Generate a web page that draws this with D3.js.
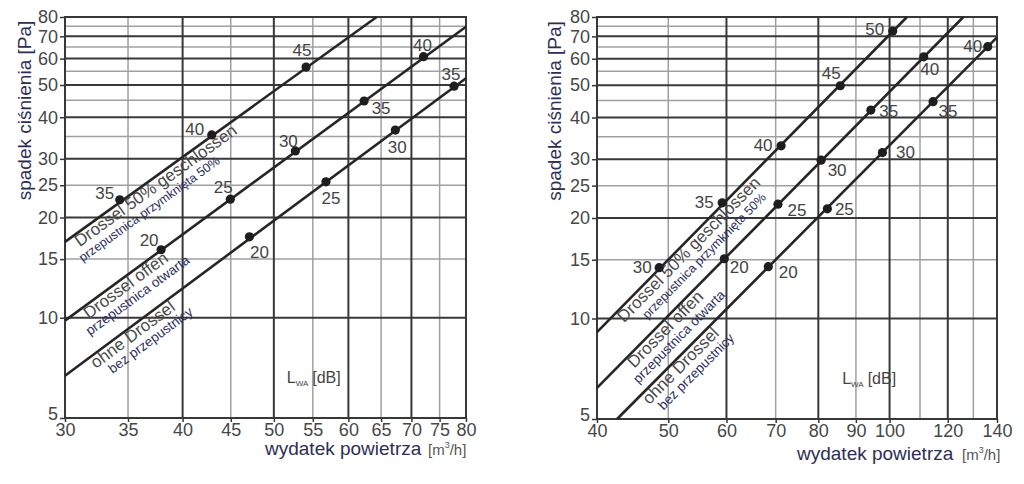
<!DOCTYPE html>
<html><head><meta charset="utf-8">
<script src="https://cdn.jsdelivr.net/npm/d3@7"></script>
<style>body{margin:0;background:#fff}svg{display:block;font-family:"Liberation Sans",Arial,sans-serif}</style>
</head><body><svg width="1024" height="484"></svg>
<script>
// ---------- data ----------
const yTicks = [5,10,15,20,25,30,40,50,60,70,80];
const yGridMajor = [10,20,30,40,50,60,70,80];
const yGridMinor = [15,25,35,45,55,65,75];

const leftXTicks = [30,35,40,45,50,55,60,65,70,75,80];
const leftXGridMajor = [40,50,60,70];
const leftXGridMinor = [35,45,55,65,75];
const rightXTicks = [40,50,60,70,80,90,100,120,140];
const rightXGridMajor = [60,80,100,120];
const rightXGridMinor = [50,70,90,110,130];

const seriesNames = ["Drossel 50% geschlossen","Drossel offen","ohne Drossel"];
const seriesNamesPl = ["przepustnica przymknięta 50%","przepustnica otwarta","bez przepustnicy"];

// left chart: flow [m3/h], pressure drop [Pa], sound power level L_WA [dB]
const leftFlow = [[34.3,42.95,54.1],[37.95,44.95,52.7,62.35,72.1],[47.1,56.8,67.3,77.7]];
const leftPressure = [[22.6,35.4,56.6],[16.0,22.7,31.7,44.75,60.8],[17.5,25.6,36.6,49.6]];
const leftLwa = [[35,40,45],[20,25,30,35,40],[20,25,30,35]];
const leftLineEnds = [[[30,16.9],[64.3,80]],[[30,9.8],[80,74.8]],[[30,6.7],[80,52.4]]];

// right chart
const rightFlow = [[48.6,59.2,71.2,85.7,101],[59.6,70.5,80.7,94.3,111.3],[68.4,82.3,97.8,114.6,136]];
const rightPressure = [[14.2,22.2,32.9,49.8,72.6],[15.1,22.0,29.8,42.1,60.8],[14.3,21.3,31.4,44.6,65.2]];
const rightLwa = [[30,35,40,45,50],[20,25,30,35,40],[20,25,30,35,40]];
const rightLineEnds = [[[40,9.1],[105.6,80]],[[40,6.2],[126,80]],[[42.6,5],[140,69.5]]];

// ---------- layout / styling (not data) ----------
const leftLabelOffsets = [[[-15,-6],[-17,-5],[-4,-17]],
  [[-12,-9],[-7,-12],[-7,-9],[17,7],[-1,-11]],
  [[10,16],[5,17],[2,17],[-3,-12]]];
const rightLabelOffsets = [[[-17,0],[-18,0],[-18,0],[-9,-12],[-18,-2]],
  [[15,9],[19,6],[16,10],[18,1],[6,13]],
  [[20,6],[17,1],[23,0],[15,10],[-15,0]]];

const charts = [
  {xDomain:[30,80], xRange:[65,466], yRange:[418,17], xTicks:leftXTicks,
   xMajor:leftXGridMajor, xMinor:leftXGridMinor, flow:leftFlow, pressure:leftPressure,
   lwa:leftLwa, ends:leftLineEnds, offs:leftLabelOffsets,
   nameStart:[30.52,31.2,31.74], plStart:[30.15,30.67,32.4],
   yTitleX:31, xTitleX:265, xTitleY:455, unitX:428, lwaAt:[51.6,6.37]},
  {xDomain:[40,140], xRange:[597,997], yRange:[419,17], xTicks:rightXTicks,
   xMajor:rightXGridMajor, xMinor:rightXGridMinor, flow:rightFlow, pressure:rightPressure,
   lwa:rightLwa, ends:rightLineEnds, offs:rightLabelOffsets,
   nameStart:[42.3,43.66,45.76], plStart:[44.1,42.9,46.4],
   yTitleX:561, xTitleX:797, xTitleY:460, unitX:962, lwaAt:[86.2,6.37]}
];
const plSizes = [12.5,13.5,13.5];

const svg = d3.select("svg");

charts.forEach(c => {
  const x = d3.scaleLog().domain(c.xDomain).range(c.xRange);
  const y = d3.scaleLog().domain([5,80]).range(c.yRange);
  const g = svg.append("g");
  const [x0,x1] = c.xRange, [y0,y1] = c.yRange;

  // grid minor
  g.selectAll(".vmin").data(c.xMinor).join("line")
    .attr("x1",d=>x(d)).attr("x2",d=>x(d)).attr("y1",y0).attr("y2",y1)
    .attr("stroke","#a0a0a0").attr("stroke-width",1.5);
  g.selectAll(".hmin").data(yGridMinor).join("line")
    .attr("y1",d=>y(d)).attr("y2",d=>y(d)).attr("x1",x0).attr("x2",x1)
    .attr("stroke","#a0a0a0").attr("stroke-width",1.5);
  // grid major
  g.selectAll(".vmaj").data(c.xMajor).join("line")
    .attr("x1",d=>x(d)).attr("x2",d=>x(d)).attr("y1",y0).attr("y2",y1)
    .attr("stroke","#383838").attr("stroke-width",2);
  g.selectAll(".hmaj").data(yGridMajor).join("line")
    .attr("y1",d=>y(d)).attr("y2",d=>y(d)).attr("x1",x0).attr("x2",x1)
    .attr("stroke","#383838").attr("stroke-width",2);
  // frame
  g.append("rect").attr("x",x0).attr("y",y1).attr("width",x1-x0).attr("height",y0-y1)
    .attr("fill","none").attr("stroke","#383838").attr("stroke-width",2);

  // axes
  const ay = g.append("g").attr("transform",`translate(${x0},0)`)
    .call(d3.axisLeft(y).tickValues(yTicks).tickFormat(d3.format("d")).tickSize(5).tickPadding(2));
  const ax = g.append("g").attr("transform",`translate(0,${y0})`)
    .call(d3.axisBottom(x).tickValues(c.xTicks).tickFormat(d3.format("d")).tickSize(4).tickPadding(1));
  [ay,ax].forEach(a=>{
    a.select(".domain").remove();
    a.selectAll("line").attr("stroke","#383838").attr("stroke-width",1.5);
    a.selectAll("text").attr("font-size",18).attr("fill","#474747").attr("font-family","Liberation Sans, Arial, sans-serif");
  });
  // lift the lowest y label slightly so it clears the first x label
  ay.selectAll(".tick").filter(d=>d===5).select("text").attr("dy","0.1em");

  // axis titles
  g.append("text").attr("transform",`translate(${c.yTitleX},${(y0+y1)/2 - 107}) rotate(-90)`)
    .attr("text-anchor","middle").attr("font-size",19).attr("fill","#2e2e55")
    .text("spadek ciśnienia [Pa]");
  g.append("text").attr("x",c.xTitleX).attr("y",c.xTitleY)
    .attr("font-size",19).attr("fill","#2e2e55").text("wydatek powietrza");
  const ut = g.append("text").attr("x",c.unitX).attr("y",c.xTitleY).attr("font-size",15).attr("fill","#555");
  ut.append("tspan").text("[m");
  ut.append("tspan").attr("font-size",9).attr("dy",-7).text("3");
  ut.append("tspan").attr("dy",7).text("/h]");

  // L_WA label
  const lt = g.append("text").attr("x",x(c.lwaAt[0])).attr("y",y(c.lwaAt[1]))
    .attr("font-size",16).attr("fill","#444");
  lt.append("tspan").text("L");
  lt.append("tspan").attr("font-size",8).attr("dy",3).text("WA");
  lt.append("tspan").attr("dx",4).attr("dy",-3).text("[dB]");

  // series lines
  const line = d3.line().x(d=>x(d[0])).y(d=>y(d[1]));
  c.ends.forEach((e,i) => {
    g.append("path").attr("d",line(e)).attr("fill","none")
      .attr("stroke","#262626").attr("stroke-width",2.6);

    const px1=x(e[0][0]), py1=y(e[0][1]), px2=x(e[1][0]), py2=y(e[1][1]);
    const ang = Math.atan2(py2-py1, px2-px1)*180/Math.PI;
    const foot = v => { const px=x(v); return [px, py1+(px-px1)*(py2-py1)/(px2-px1)]; };
    const f1 = foot(c.nameStart[i]);
    g.append("text").attr("transform",`translate(${f1[0]},${f1[1]}) rotate(${ang})`)
      .attr("y",13).attr("font-size",17).attr("fill","#4a4a4a").text(seriesNames[i]);
    const f2 = foot(c.plStart[i]);
    g.append("text").attr("transform",`translate(${f2[0]},${f2[1]}) rotate(${ang})`)
      .attr("y",27).attr("font-size",plSizes[i]).attr("fill","#2e2e5e").text(seriesNamesPl[i]);
  });

  // points + labels
  c.flow.forEach((fs,i) => {
    fs.forEach((f,j) => {
      const p = c.pressure[i][j];
      g.append("circle").attr("cx",x(f)).attr("cy",y(p)).attr("r",4.6).attr("fill","#1e1e1e");
      const o = c.offs[i][j];
      g.append("text").attr("x",x(f)+o[0]).attr("y",y(p)+o[1])
        .attr("text-anchor","middle").attr("dominant-baseline","central")
        .attr("font-size",17).attr("fill","#444").text(c.lwa[i][j]);
    });
  });
});
</script></body></html>
